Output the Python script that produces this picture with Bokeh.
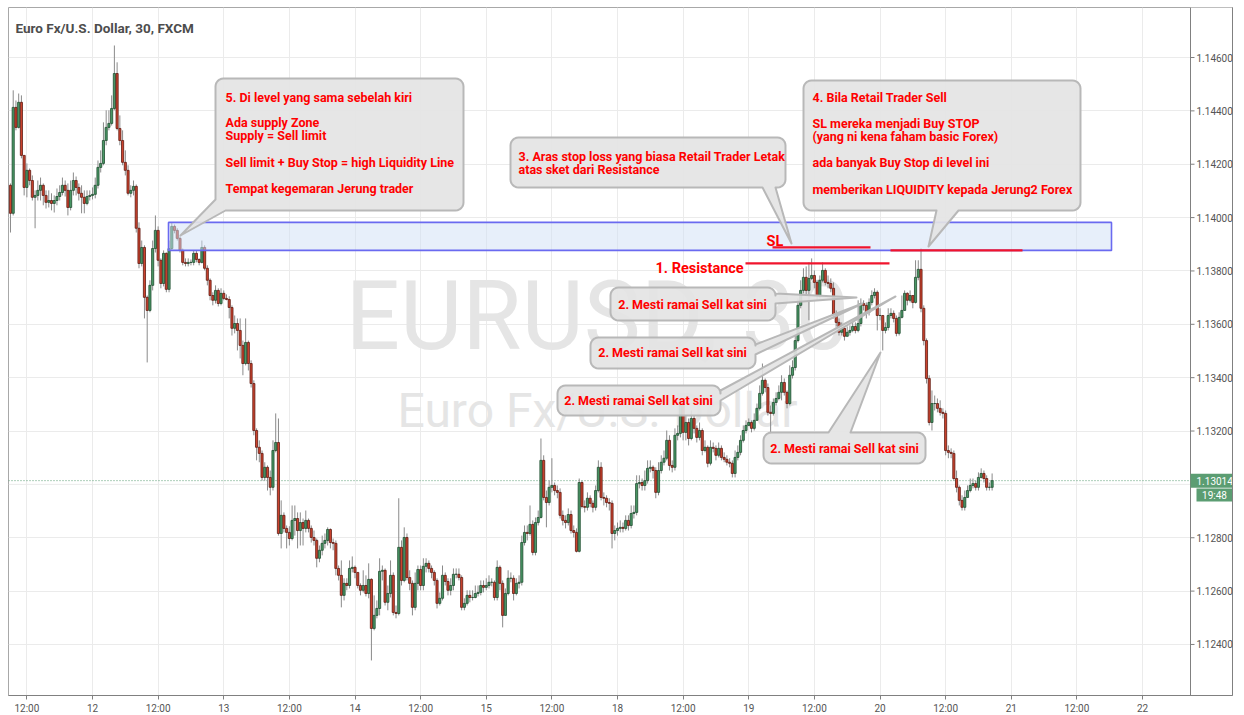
import numpy as np
from bokeh.plotting import figure
from bokeh.models import Range1d, FixedTicker, PrintfTickFormatter, ColumnDataSource
from bokeh.embed import file_html
from bokeh.resources import INLINE
from bokeh.core.properties import value

# ---------------- data (EURUSD 30 min candles) ----------------
first_open = 1.14121
closes = [
1.14016, 1.14413, 1.14338, 1.14432, 1.14233, 1.14113, 1.14177, 1.14139, 1.14076, 1.14083,
1.14102, 1.14121, 1.14083, 1.14057, 1.14064, 1.14053, 1.14064, 1.14079, 1.14094, 1.14121,
1.14102, 1.14038, 1.14102, 1.14139, 1.14113, 1.14091, 1.14076, 1.14053, 1.14079, 1.14083,
1.14087, 1.14121, 1.14188, 1.14203, 1.14289, 1.14338, 1.14353, 1.14409, 1.14540, 1.14334,
1.14289, 1.14207, 1.14177, 1.14091, 1.14102, 1.14117,
1.13960, 1.13828, 1.13888, 1.13701, 1.13652, 1.13746, 1.13884, 1.13952, 1.13840, 1.13753,
1.13866, 1.13731, 1.13884, 1.13967, 1.13952, 1.13922, 1.13877, 1.13832, 1.13828, 1.13832,
1.13832, 1.13866, 1.13843, 1.13832, 1.13888, 1.13810, 1.13765, 1.13708, 1.13690, 1.13727,
1.13678, 1.13716, 1.13697, 1.13693, 1.13663, 1.13585, 1.13603, 1.13577, 1.13521, 1.13453,
1.13532, 1.13453, 1.13378, 1.13202, 1.13139, 1.13116, 1.13026, 1.13064, 1.13026, 1.12989,
1.13127, 1.13157, 1.12816, 1.12884, 1.12835, 1.12820, 1.12797, 1.12865, 1.12872, 1.12827,
1.12857,
1.12835, 1.12865, 1.12835, 1.12801, 1.12790, 1.12723, 1.12753, 1.12779, 1.12790, 1.12831,
1.12782, 1.12779, 1.12685, 1.12659, 1.12584, 1.12629, 1.12621, 1.12685, 1.12689, 1.12670,
1.12621, 1.12603, 1.12621, 1.12591, 1.12644, 1.12460, 1.12509, 1.12535,
1.12674, 1.12678, 1.12558, 1.12591, 1.12659, 1.12520, 1.12516, 1.12764, 1.12640, 1.12801,
1.12651, 1.12629, 1.12539, 1.12629, 1.12681, 1.12621, 1.12693, 1.12704, 1.12685, 1.12670,
1.12640, 1.12554, 1.12573, 1.12659, 1.12636, 1.12603, 1.12621, 1.12663, 1.12663, 1.12651,
1.12539, 1.12554, 1.12584, 1.12576, 1.12576, 1.12591, 1.12595, 1.12621, 1.12614, 1.12621,
1.12633, 1.12633, 1.12576, 1.12689, 1.12629, 1.12509, 1.12591, 1.12648, 1.12648, 1.12591,
1.12629, 1.12633, 1.12782, 1.12820, 1.12816, 1.12850,
1.12745, 1.12857, 1.12876, 1.13090, 1.12951, 1.12932, 1.12989, 1.12996, 1.12977, 1.12970,
1.12884, 1.12865, 1.12857, 1.12887, 1.12827, 1.12820, 1.12749, 1.13007, 1.12917, 1.12914,
1.12948, 1.12929, 1.12914, 1.12977, 1.13064, 1.12951, 1.12948, 1.12932, 1.12929, 1.12816,
1.12827, 1.12835, 1.12839, 1.12835, 1.12865, 1.12846, 1.12891, 1.12895, 1.13003, 1.13007,
1.12996, 1.13014, 1.13060, 1.13064, 1.13052, 1.12970, 1.13052, 1.13083, 1.13098, 1.13165,
1.13071, 1.13064, 1.13184, 1.13191, 1.13296, 1.13195, 1.13232, 1.13172, 1.13247, 1.13210,
1.13176, 1.13202, 1.13127, 1.13139, 1.13079, 1.13139, 1.13135, 1.13109, 1.13135,
1.13101, 1.13094, 1.13083, 1.13079, 1.13041, 1.13101,
1.13120, 1.13165, 1.13202, 1.13221, 1.13232, 1.13210, 1.13240,
1.13285, 1.13341, 1.13390, 1.13363, 1.13270, 1.13266, 1.13307, 1.13322, 1.13345,
1.13382, 1.13345, 1.13303, 1.13409, 1.13438, 1.13539, 1.13671, 1.13727, 1.13776, 1.13727,
1.13772, 1.13783, 1.13757, 1.13708, 1.13765, 1.13802, 1.13757, 1.13753,
1.13735, 1.13633, 1.13607, 1.13570, 1.13585, 1.13555, 1.13570, 1.13577,
1.13592, 1.13577, 1.13603, 1.13678, 1.13671, 1.13645, 1.13682, 1.13708, 1.13720, 1.13633,
1.13633, 1.13577, 1.13588, 1.13633, 1.13641, 1.13622, 1.13566, 1.13626, 1.13652,
1.13716, 1.13690, 1.13708, 1.13682, 1.13776, 1.13806, 1.13660, 1.13539, 1.13397,
1.13232, 1.13303, 1.13303, 1.13285, 1.13270, 1.13266, 1.13127, 1.13120, 1.13116,
1.13022, 1.12989, 1.12940, 1.12914, 1.12951, 1.12977, 1.12996, 1.13003, 1.12989,
1.13026, 1.13041, 1.13022, 1.12989, 1.12989, 1.13014,
]
highs = [
1.14128, 1.14477, 1.14439, 1.14465, 1.14458, 1.14207, 1.14203, 1.14184, 1.14158, 1.14102,
1.14139, 1.14150, 1.14128, 1.14102, 1.14102, 1.14091, 1.14083, 1.14109, 1.14121, 1.14150,
1.14139, 1.14128, 1.14139, 1.14169, 1.14154, 1.14128, 1.14121, 1.14102, 1.14102, 1.14102,
1.14113, 1.14150, 1.14214, 1.14252, 1.14357, 1.14402, 1.14402, 1.14458, 1.14645, 1.14582,
1.14383, 1.14327, 1.14252, 1.14196, 1.14121, 1.14139,
1.14124, 1.13982, 1.13914, 1.13896, 1.13708, 1.13765, 1.13914, 1.14008, 1.13967, 1.13847,
1.13877, 1.13869, 1.13914, 1.13982, 1.13974, 1.13960, 1.13929, 1.13884, 1.13847, 1.13847,
1.13843, 1.13877, 1.13877, 1.13847, 1.13914, 1.13896, 1.13821, 1.13772, 1.13720, 1.13746,
1.13735, 1.13735, 1.13727, 1.13712, 1.13705, 1.13671, 1.13633, 1.13622, 1.13622, 1.13539,
1.13622, 1.13539, 1.13465, 1.13390, 1.13210, 1.13165, 1.13127, 1.13083, 1.13071, 1.13052,
1.13165, 1.13266, 1.13247, 1.12940, 1.12895, 1.12846, 1.12843, 1.12921, 1.12921, 1.12895,
1.12895,
1.12872, 1.12902, 1.12872, 1.12846, 1.12827, 1.12797, 1.12771, 1.12808, 1.12816, 1.12839,
1.12835, 1.12797, 1.12790, 1.12696, 1.12715, 1.12648, 1.12648, 1.12715, 1.12730, 1.12696,
1.12659, 1.12629, 1.12678, 1.12659, 1.12704, 1.12648, 1.12584, 1.12565,
1.12723, 1.12696, 1.12685, 1.12621, 1.12715, 1.12670, 1.12546, 1.12948, 1.12790, 1.12839,
1.12816, 1.12678, 1.12640, 1.12670, 1.12696, 1.12696, 1.12723, 1.12723, 1.12715, 1.12696,
1.12678, 1.12648, 1.12595, 1.12696, 1.12670, 1.12648, 1.12648, 1.12685, 1.12685, 1.12685,
1.12659, 1.12573, 1.12603, 1.12603, 1.12603, 1.12621, 1.12621, 1.12640, 1.12640, 1.12648,
1.12659, 1.12648, 1.12640, 1.12715, 1.12696, 1.12640, 1.12610, 1.12678, 1.12670, 1.12659,
1.12648, 1.12659, 1.12808, 1.12846, 1.12846, 1.12921,
1.12865, 1.12876, 1.12902, 1.13172, 1.13109, 1.12977, 1.13014, 1.13098, 1.13007, 1.12996,
1.12985, 1.12902, 1.12884, 1.12910, 1.12902, 1.12846, 1.12835, 1.13022, 1.13014, 1.12940,
1.12970, 1.12959, 1.12940, 1.12996, 1.13090, 1.13083, 1.12970, 1.12959, 1.12948, 1.12940,
1.12846, 1.12857, 1.12865, 1.12857, 1.12884, 1.12884, 1.12921, 1.12921, 1.13034, 1.13034,
1.13022, 1.13052, 1.13090, 1.13090, 1.13071, 1.13064, 1.13083, 1.13109, 1.13127, 1.13202,
1.13184, 1.13090, 1.13210, 1.13221, 1.13315, 1.13307, 1.13258, 1.13247, 1.13277, 1.13258,
1.13221, 1.13232, 1.13210, 1.13165, 1.13146, 1.13165, 1.13157, 1.13146, 1.13157,
1.13146, 1.13120, 1.13109, 1.13098, 1.13090, 1.13127,
1.13146, 1.13184, 1.13221, 1.13240, 1.13247, 1.13240, 1.13266,
1.13303, 1.13371, 1.13453, 1.13397, 1.13378, 1.13296, 1.13322, 1.13345, 1.13371,
1.13409, 1.13397, 1.13352, 1.13446, 1.13465, 1.13558, 1.13697, 1.13765, 1.13810, 1.13817,
1.13832, 1.13847, 1.13802, 1.13765, 1.13783, 1.13832, 1.13810, 1.13783,
1.13772, 1.13757, 1.13652, 1.13622, 1.13607, 1.13596, 1.13592, 1.13596,
1.13615, 1.13607, 1.13690, 1.13697, 1.13690, 1.13682, 1.13697, 1.13727, 1.13735, 1.13727,
1.13660, 1.13622, 1.13607, 1.13660, 1.13660, 1.13652, 1.13633, 1.13645, 1.13708,
1.13727, 1.13720, 1.13727, 1.13708, 1.13840, 1.13840, 1.13884, 1.13671, 1.13547,
1.13409, 1.13352, 1.13333, 1.13322, 1.13315, 1.13285, 1.13277, 1.13146, 1.13135,
1.13127, 1.13052, 1.12996, 1.12959, 1.12977, 1.12996, 1.13022, 1.13022, 1.13014,
1.13045, 1.13060, 1.13052, 1.13034, 1.13007, 1.13041,
]
lows = [
1.13944, 1.14008, 1.14327, 1.14334, 1.14222, 1.14083, 1.14076, 1.14121, 1.14064, 1.13960,
1.14064, 1.14064, 1.14046, 1.14034, 1.14038, 1.14027, 1.14019, 1.14046, 1.14064, 1.14083,
1.14079, 1.14008, 1.14027, 1.14083, 1.14083, 1.14064, 1.14016, 1.14016, 1.14046, 1.14064,
1.14068, 1.14072, 1.14109, 1.14169, 1.14196, 1.14271, 1.14327, 1.14345, 1.14402, 1.14327,
1.14271, 1.14196, 1.14158, 1.14083, 1.14076, 1.14083,
1.13944, 1.13810, 1.13817, 1.13622, 1.13457, 1.13645, 1.13727, 1.13869, 1.13817, 1.13735,
1.13742, 1.13720, 1.13720, 1.13877, 1.13941, 1.13914, 1.13869, 1.13821, 1.13817, 1.13817,
1.13821, 1.13821, 1.13832, 1.13821, 1.13828, 1.13802, 1.13746, 1.13690, 1.13671, 1.13678,
1.13667, 1.13671, 1.13690, 1.13690, 1.13622, 1.13558, 1.13566, 1.13502, 1.13472, 1.13409,
1.13446, 1.13427, 1.13363, 1.13184, 1.13090, 1.13083, 1.13014, 1.13014, 1.12977, 1.12959,
1.12977, 1.13120, 1.12808, 1.12760, 1.12820, 1.12760, 1.12771, 1.12790, 1.12808, 1.12760,
1.12771,
1.12771, 1.12820, 1.12820, 1.12782, 1.12771, 1.12689, 1.12708, 1.12734, 1.12760, 1.12771,
1.12760, 1.12753, 1.12659, 1.12640, 1.12539, 1.12565, 1.12603, 1.12610, 1.12670, 1.12648,
1.12610, 1.12584, 1.12595, 1.12580, 1.12573, 1.12340, 1.12453, 1.12498,
1.12509, 1.12640, 1.12546, 1.12528, 1.12576, 1.12509, 1.12498, 1.12509, 1.12621, 1.12633,
1.12640, 1.12603, 1.12509, 1.12528, 1.12603, 1.12603, 1.12603, 1.12670, 1.12670, 1.12648,
1.12621, 1.12535, 1.12546, 1.12565, 1.12621, 1.12584, 1.12584, 1.12603, 1.12648, 1.12640,
1.12528, 1.12528, 1.12546, 1.12558, 1.12565, 1.12573, 1.12580, 1.12584, 1.12595, 1.12603,
1.12610, 1.12618, 1.12565, 1.12565, 1.12603, 1.12464, 1.12509, 1.12584, 1.12633, 1.12565,
1.12584, 1.12610, 1.12621, 1.12771, 1.12790, 1.12808,
1.12734, 1.12734, 1.12846, 1.12872, 1.12940, 1.12839, 1.12921, 1.12970, 1.12959, 1.12948,
1.12872, 1.12846, 1.12835, 1.12846, 1.12816, 1.12801, 1.12745, 1.12745, 1.12910, 1.12895,
1.12902, 1.12914, 1.12895, 1.12902, 1.12970, 1.12940, 1.12921, 1.12914, 1.12902, 1.12760,
1.12790, 1.12808, 1.12820, 1.12820, 1.12827, 1.12827, 1.12835, 1.12872, 1.12884, 1.12985,
1.12977, 1.12977, 1.13003, 1.13045, 1.13022, 1.12948, 1.12959, 1.13041, 1.13071, 1.13090,
1.13052, 1.13045, 1.13052, 1.13165, 1.13176, 1.13165, 1.13165, 1.13146, 1.13165, 1.13191,
1.13157, 1.13165, 1.13109, 1.13120, 1.13064, 1.13071, 1.13120, 1.13090, 1.13101,
1.13090, 1.13083, 1.13071, 1.13064, 1.13026, 1.13026,
1.13090, 1.13109, 1.13157, 1.13191, 1.13221, 1.13195, 1.13202,
1.13240, 1.13277, 1.13333, 1.13345, 1.13258, 1.13191, 1.13258, 1.13296, 1.13315,
1.13315, 1.13333, 1.13285, 1.13296, 1.13397, 1.13427, 1.13532, 1.13660, 1.13716, 1.13708,
1.13615, 1.13765, 1.13735, 1.13690, 1.13697, 1.13757, 1.13746, 1.13735,
1.13720, 1.13622, 1.13592, 1.13558, 1.13558, 1.13539, 1.13555, 1.13558,
1.13570, 1.13566, 1.13570, 1.13592, 1.13652, 1.13622, 1.13633, 1.13671, 1.13697, 1.13577,
1.13615, 1.13502, 1.13566, 1.13577, 1.13622, 1.13607, 1.13555, 1.13558, 1.13622,
1.13652, 1.13671, 1.13682, 1.13660, 1.13678, 1.13765, 1.13645, 1.13521, 1.13378,
1.13221, 1.13202, 1.13277, 1.13270, 1.13258, 1.13247, 1.13109, 1.13098, 1.13098,
1.13014, 1.12970, 1.12921, 1.12902, 1.12902, 1.12959, 1.12970, 1.12985, 1.12977,
1.12977, 1.13022, 1.13007, 1.12977, 1.12977, 1.12977,
]
candles_before_day12 = 30          # first bar is 30 half-hours before the "12" boundary
bars_per_day = 48                  # 30-minute bars

day_ticks = [-0.5, 0, 0.5, 1, 1.5, 2, 2.5, 3, 3.5, 4, 4.5, 5, 5.5, 6, 6.5, 7, 7.5, 8]
day_labels = ["12:00", "12", "12:00", "13", "12:00", "14", "12:00", "15", "12:00",
              "18", "12:00", "19", "12:00", "20", "12:00", "21", "12:00", "22"]
price_ticks = [1.124, 1.126, 1.128, 1.130, 1.132, 1.134, 1.136, 1.138, 1.140, 1.142, 1.144, 1.146]
last_price = 1.13014
last_time = "19:48"
zone_top, zone_bottom = 1.13982, 1.13877
sl_level_a, sl_level_b, resistance_level = 1.13888, 1.13877, 1.13828

assert len(closes) == len(highs) == len(lows)

# ---------------- helpers: reference pixel -> data (layout only) ----------------
def X(px):
    return (px - 92) / 131.25

def Y(py):
    return 1.146 - (py - 57) * 0.002 / 53.36

PX_PRICE = 0.002 / 53.36
FONT = "Roboto"
F = value(FONT)
GRID = "#ebebeb"
AXC = "#808080"

N = len(closes)
opens = [first_open] + closes[:-1]
hi = [max(h, o, c) for h, o, c in zip(highs, opens, closes)]
lo = [min(l, o, c) for l, o, c in zip(lows, opens, closes)]
xs = (np.arange(N) - candles_before_day12) / bars_per_day
step = 1.0 / bars_per_day
up = [c >= o for o, c in zip(opens, closes)]
src = ColumnDataSource(dict(
    x=xs, h=hi, l=lo,
    top=[max(o, c) for o, c in zip(opens, closes)],
    bot=[min(o, c) for o, c in zip(opens, closes)],
    fill=["#4a9866" if u else "#cc432e" for u in up],
    edge=["#1f4d30" if u else "#5e1a12" for u in up],
))

# frame covers the chart (8..1190) plus the price-scale column (1190..1232)
p = figure(frame_width=1224, frame_height=688,
           x_range=Range1d(X(8), X(1232)), y_range=Range1d(Y(695), Y(7)),
           output_backend="svg", toolbar_location=None, y_axis_location="right",
           min_border_left=8, min_border_top=7, min_border_bottom=0, min_border_right=0)
p.background_fill_color = "white"
p.border_fill_color = "white"
p.outline_line_color = "#a8a8a8"

p.xaxis.ticker = FixedTicker(ticks=day_ticks)
p.xaxis.major_label_overrides = {t: s for t, s in zip(day_ticks, day_labels)}
axis_ticks = [t for t in price_ticks if abs(t - last_price) > 0.0005]
p.yaxis.ticker = FixedTicker(ticks=axis_ticks)
p.yaxis.formatter = PrintfTickFormatter(format="%.5f")
for ax in (p.xaxis[0], p.yaxis[0]):
    ax.axis_line_color = AXC
    ax.major_tick_line_color = AXC
    ax.minor_tick_line_color = None
    ax.major_tick_in = 0
    ax.major_tick_out = 4
    ax.major_label_standoff = 3
    ax.major_label_text_font = FONT
    ax.major_label_text_font_size = "10px"
    ax.major_label_text_color = "#555555"
# price labels sit inside the price-scale column, to the right of the chart's edge
p.yaxis[0].major_tick_out = 0
p.yaxis[0].major_label_standoff = -36
p.xgrid.grid_line_color = GRID
p.ygrid.grid_line_color = GRID

# grid line hidden behind the last-price tag in the ticker
p.segment(x0=[X(8)], x1=[X(1190)], y0=[1.130], y1=[1.130], line_color=GRID, line_width=1)

# watermark
p.text(x=[X(597)], y=[Y(315)], text=["EURUSD, 30"], text_font=F,
       text_font_size="96px", text_color="#e5e5e5", text_align="center", text_baseline="middle")
p.text(x=[X(597)], y=[Y(410)], text=["Euro Fx/U.S. Dollar"], text_font=F,
       text_font_size="48px", text_color="#e5e5e5", text_align="center", text_baseline="middle")

# last price dotted line
p.segment(x0=[X(8)], x1=[X(1190)], y0=[last_price], y1=[last_price], line_color="#5a9e73",
          line_dash="1 2", line_width=1)

# candles
p.segment(x0="x", y0="h", x1="x", y1="l", line_color="#8a8a8a", line_width=1, source=src)
p.vbar(x="x", width=step * 0.78, top="top", bottom="bot", fill_color="fill",
       line_color="edge", line_width=0.8, source=src)

# supply zone
p.quad(left=[X(168)], right=[X(1111)], top=[zone_top], bottom=[zone_bottom],
       fill_color="#cfe0f5", fill_alpha=0.5, line_color="#6a6af0", line_width=1.6)

# red level lines
p.segment(x0=[X(772), X(890), X(745)], x1=[X(870), X(1022), X(889)],
          y0=[sl_level_a, sl_level_b, resistance_level], y1=[sl_level_a, sl_level_b, resistance_level],
          line_color="#f0142d", line_width=2.2)

# callouts
def callout(x0, y0, x1, y1, ptr, r=8):
    kind, a, b, tx, ty = ptr
    pts = []

    def arc(cx, cy, t0, t1):
        for t in np.linspace(t0, t1, 7):
            pts.append((cx + r * np.cos(t), cy + r * np.sin(t)))

    pts.append((x0 + r, y0))
    if kind == "top":
        pts.extend([(a, y0), (tx, ty), (b, y0)])
    arc(x1 - r, y0 + r, -np.pi / 2, 0)
    if kind == "right":
        pts.extend([(x1, a), (tx, ty), (x1, b)])
    arc(x1 - r, y1 - r, 0, np.pi / 2)
    if kind == "bottom":
        pts.extend([(b, y1), (tx, ty), (a, y1)])
    if kind == "bl":
        pts.extend([(a, y1), (tx, ty), (x0, b)])
    else:
        arc(x0 + r, y1 - r, np.pi / 2, np.pi)
    arc(x0 + r, y0 + r, np.pi, 1.5 * np.pi)
    p.patch([X(u) for u, _ in pts], [Y(v) for _, v in pts], fill_color="#e4e4e4",
            fill_alpha=0.92, line_color="#b8b8b8", line_width=2, line_join="round")

callout(215, 78, 463, 210, ("bl", 225, 199, 180, 235))
callout(510, 137, 785, 187, ("bottom", 762, 775, 791, 243))
callout(803, 80, 1080, 210, ("bottom", 936, 958, 928, 246))
callout(610, 287, 775, 320, ("right", 293, 303, 856, 297))
callout(590, 337, 755, 368, ("right", 344, 354, 862, 303))
callout(557, 385, 720, 415, ("right", 390, 400, 895, 296))
callout(763, 432, 925, 463, ("top", 828, 850, 880, 352))

def txt(px, py, s, size="12.5px", align="left"):
    p.text(x=[X(px)], y=[Y(py)], text=[s], text_font=F, text_font_style="bold",
           text_font_size=size, text_color="#ff0000", text_align=align, text_baseline="middle")

note5 = ["5. Di level yang sama sebelah kiri", "Ada supply Zone", "Supply = Sell limit",
         "Sell limit + Buy Stop = high Liquidity Line", "Tempat kegemaran Jerung trader"]
for s, yy in zip(note5, [97, 122, 135, 162, 188]):
    txt(225, yy, s)
note3 = ["3. Aras stop loss yang biasa Retail Trader Letak", "atas sket dari Resistance"]
for s, yy in zip(note3, [156, 169]):
    txt(518, yy, s)
note4 = ["4. Bila Retail  Trader Sell", "SL mereka menjadi Buy STOP",
         "(yang ni kena faham basic Forex)", "ada banyak Buy Stop di level ini",
         "memberikan LIQUIDITY kepada Jerung2 Forex"]
for s, yy in zip(note4, [97, 123, 136, 162, 189]):
    txt(812, yy, s)
note2 = "2. Mesti ramai Sell kat sini"
for cx, cy in [(692, 304), (672, 352), (638, 400), (844, 448)]:
    txt(cx, cy, note2, align="center")
txt(766, 241, "SL", size="14.5px")
txt(655, 268, "1. Resistance", size="14.5px")

# title
p.text(x=[X(15)], y=[Y(27)], text=["Euro Fx/U.S. Dollar, 30, FXCM"], text_font=F,
       text_font_style="bold", text_font_size="13.5px", text_color="#4d4d4d",
       text_align="left", text_baseline="middle")

# ---- price-scale column (1190..1232): blank background, edge line, ticks, last-price tags
p.quad(left=[X(1190)], right=[X(1232)], top=[Y(7)], bottom=[Y(695)], fill_color="white",
       line_color=None)
p.segment(x0=[X(1190)], x1=[X(1190)], y0=[Y(7)], y1=[Y(695)], line_color=AXC, line_width=1)
p.segment(x0=[X(1190)] * len(price_ticks), x1=[X(1194)] * len(price_ticks),
          y0=price_ticks, y1=price_ticks, line_color=AXC, line_width=1)
p.quad(left=[X(1190)], right=[X(1232)], top=[last_price + 7 * PX_PRICE],
       bottom=[last_price - 7 * PX_PRICE], fill_color="#5b9d72", line_color=None)
p.text(x=[X(1196)], y=[last_price], text=["%.5f" % last_price], text_font=F,
       text_font_size="10px", text_color="white", text_align="left", text_baseline="middle")
p.quad(left=[X(1196)], right=[X(1232)], top=[Y(488)], bottom=[Y(501)],
       fill_color="#5b9d72", line_color=None)
p.text(x=[X(1214)], y=[Y(494.5)], text=[last_time], text_font=F,
       text_font_size="10px", text_color="white", text_align="center", text_baseline="middle")

open("out.html", "w").write(file_html(p, INLINE))
